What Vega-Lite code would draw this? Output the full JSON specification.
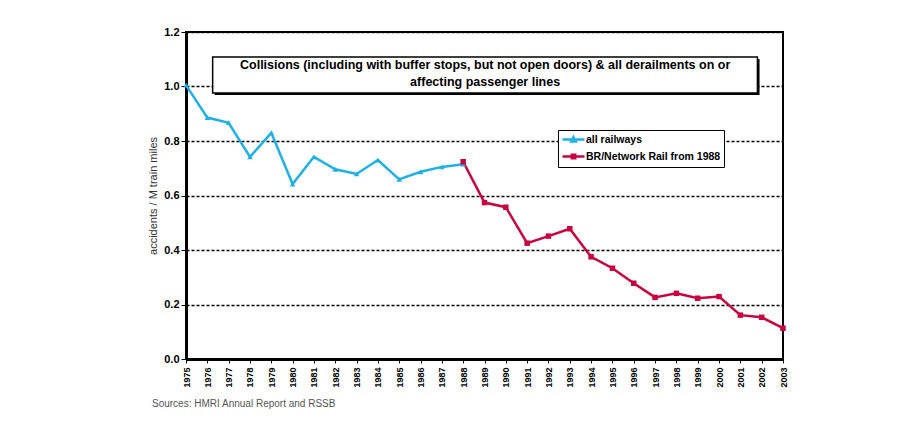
{
  "$schema": "https://vega.github.io/schema/vega-lite/v6.json",
  "width": 597,
  "height": 327,
  "autosize": {"type": "none"},
  "padding": {"left": 186, "top": 32, "right": 122, "bottom": 66},
  "background": "white",
  "config": {
    "font": "Liberation Sans",
    "view": {"stroke": "black", "strokeWidth": 2},
    "axis": {"domainColor": "black", "tickColor": "black", "labelColor": "black", "titleColor": "#333", "labelOverlap": false},
    "axisX": {"labelAngle": -90, "labelFontSize": 9, "labelFontWeight": "bold", "grid": false, "domainWidth": 3, "tickSize": 4, "tickWidth": 1, "labelPadding": 4, "labelFlush": false},
    "axisY": {"labelFontSize": 11, "labelFontWeight": "bold", "tickSize": 5, "tickWidth": 1, "titleFontSize": 11, "titleFontWeight": "normal", "titlePadding": 5, "grid": true, "gridColor": "black", "gridDash": [3, 2], "gridWidth": 1.5, "domainWidth": 3, "labelFlush": false}
  },
  "title": {
    "text": "Sources: HMRI Annual Report and RSSB",
    "orient": "bottom",
    "anchor": "start",
    "frame": "group",
    "dx": -34,
    "offset": 12,
    "fontSize": 10,
    "fontWeight": "normal",
    "color": "#555",
    "font": "Liberation Sans"
  },
  "datasets": {
    "rates": [
      {"year": 1975, "value": 1.005, "series": "all railways"},
      {"year": 1976, "value": 0.886, "series": "all railways"},
      {"year": 1977, "value": 0.867, "series": "all railways"},
      {"year": 1978, "value": 0.742, "series": "all railways"},
      {"year": 1979, "value": 0.830, "series": "all railways"},
      {"year": 1980, "value": 0.642, "series": "all railways"},
      {"year": 1981, "value": 0.742, "series": "all railways"},
      {"year": 1982, "value": 0.696, "series": "all railways"},
      {"year": 1983, "value": 0.679, "series": "all railways"},
      {"year": 1984, "value": 0.730, "series": "all railways"},
      {"year": 1985, "value": 0.659, "series": "all railways"},
      {"year": 1986, "value": 0.687, "series": "all railways"},
      {"year": 1987, "value": 0.705, "series": "all railways"},
      {"year": 1988, "value": 0.715, "series": "all railways"},
      {"year": 1988, "value": 0.724, "series": "BR/Network Rail from 1988"},
      {"year": 1989, "value": 0.574, "series": "BR/Network Rail from 1988"},
      {"year": 1990, "value": 0.557, "series": "BR/Network Rail from 1988"},
      {"year": 1991, "value": 0.425, "series": "BR/Network Rail from 1988"},
      {"year": 1992, "value": 0.451, "series": "BR/Network Rail from 1988"},
      {"year": 1993, "value": 0.478, "series": "BR/Network Rail from 1988"},
      {"year": 1994, "value": 0.375, "series": "BR/Network Rail from 1988"},
      {"year": 1995, "value": 0.333, "series": "BR/Network Rail from 1988"},
      {"year": 1996, "value": 0.278, "series": "BR/Network Rail from 1988"},
      {"year": 1997, "value": 0.226, "series": "BR/Network Rail from 1988"},
      {"year": 1998, "value": 0.241, "series": "BR/Network Rail from 1988"},
      {"year": 1999, "value": 0.223, "series": "BR/Network Rail from 1988"},
      {"year": 2000, "value": 0.229, "series": "BR/Network Rail from 1988"},
      {"year": 2001, "value": 0.161, "series": "BR/Network Rail from 1988"},
      {"year": 2002, "value": 0.153, "series": "BR/Network Rail from 1988"},
      {"year": 2003, "value": 0.113, "series": "BR/Network Rail from 1988"}
    ],
    "note": [{"line1": "Collisions (including with buffer stops, but not open doors) & all derailments on or", "line2": "affecting passenger lines"}]
  },
  "layer": [
    {
      "data": {"name": "rates"},
      "encoding": {
        "x": {
          "field": "year", "type": "quantitative",
          "scale": {"domain": [1975, 2003], "nice": false, "zero": false},
          "axis": {"values": [1975,1976,1977,1978,1979,1980,1981,1982,1983,1984,1985,1986,1987,1988,1989,1990,1991,1992,1993,1994,1995,1996,1997,1998,1999,2000,2001,2002,2003], "format": "d", "title": null}
        },
        "y": {
          "field": "value", "type": "quantitative",
          "scale": {"domain": [0, 1.2], "nice": false},
          "axis": {"values": [0, 0.2, 0.4, 0.6, 0.8, 1.0, 1.2], "format": ".1f", "title": "accidents / M train miles"}
        },
        "color": {
          "field": "series", "type": "nominal",
          "scale": {"domain": ["all railways", "BR/Network Rail from 1988"], "range": ["#1eb0e6", "#c8043e"]},
          "legend": {
            "title": null, "orient": "none", "legendX": 372, "legendY": 98,
            "strokeColor": "black", "fillColor": "white", "padding": 3,
            "labelFontSize": 10.5, "labelFontWeight": "bold", "labelColor": "black", "labelOffset": 6,
            "symbolSize": 100, "symbolOffset": 6, "symbolStrokeWidth": 2.5, "rowPadding": 2,
            "encode": {
              "symbols": {
                "update": {
                  "shape": {"signal": "datum.value === 'all railways' ? 'M-2.2,0H2.2M0,-0.45L0.45,0.4H-0.45Z' : 'M-2.2,0H2.2M-0.35,-0.35H0.35V0.35H-0.35Z'"},
                  "fill": {"signal": "datum.value === 'all railways' ? '#1eb0e6' : '#c8043e'"},
                  "stroke": {"signal": "datum.value === 'all railways' ? '#1eb0e6' : '#c8043e'"},
                  "opacity": {"value": 1}
                }
              }
            }
          }
        }
      },
      "layer": [
        {"mark": {"type": "line", "strokeWidth": 2.5}, "encoding": {}},
        {
          "transform": [{"filter": "datum.series === 'all railways'"}],
          "mark": {"type": "point", "filled": true, "opacity": 1, "size": 30, "shape": "triangle-up"}
        },
        {
          "transform": [{"filter": "datum.series !== 'all railways'"}],
          "mark": {"type": "point", "filled": true, "opacity": 1, "size": 30, "shape": "square"}
        }
      ]
    },
    {
      "data": {"name": "note"},
      "mark": {"type": "rect", "fill": "black"},
      "encoding": {
        "x": {"datum": 1976.35, "type": "quantitative", "axis": {"values": [1975,1976,1977,1978,1979,1980,1981,1982,1983,1984,1985,1986,1987,1988,1989,1990,1991,1992,1993,1994,1995,1996,1997,1998,1999,2000,2001,2002,2003], "format": "d", "title": null}},
        "x2": {"datum": 2001.9},
        "y": {"datum": 0.969, "type": "quantitative", "axis": {"values": [0, 0.2, 0.4, 0.6, 0.8, 1.0, 1.2], "format": ".1f", "title": "accidents / M train miles"}},
        "y2": {"datum": 1.101}
      }
    },
    {
      "data": {"name": "note"},
      "mark": {"type": "rect", "fill": "white", "stroke": "black", "strokeWidth": 1.5},
      "encoding": {
        "x": {"datum": 1976.25, "type": "quantitative", "axis": {"values": [1975,1976,1977,1978,1979,1980,1981,1982,1983,1984,1985,1986,1987,1988,1989,1990,1991,1992,1993,1994,1995,1996,1997,1998,1999,2000,2001,2002,2003], "format": "d", "title": null}},
        "x2": {"datum": 2001.8},
        "y": {"datum": 0.976, "type": "quantitative", "axis": {"values": [0, 0.2, 0.4, 0.6, 0.8, 1.0, 1.2], "format": ".1f", "title": "accidents / M train miles"}},
        "y2": {"datum": 1.108}
      }
    },
    {
      "data": {"name": "note"},
      "mark": {"type": "text", "fontSize": 12.5, "fontWeight": "bold", "fill": "black", "align": "center", "baseline": "middle"},
      "encoding": {
        "x": {"datum": 1989.03, "type": "quantitative", "axis": {"values": [1975,1976,1977,1978,1979,1980,1981,1982,1983,1984,1985,1986,1987,1988,1989,1990,1991,1992,1993,1994,1995,1996,1997,1998,1999,2000,2001,2002,2003], "format": "d", "title": null}},
        "y": {"datum": 1.080, "type": "quantitative", "axis": {"values": [0, 0.2, 0.4, 0.6, 0.8, 1.0, 1.2], "format": ".1f", "title": "accidents / M train miles"}},
        "text": {"field": "line1"}
      }
    },
    {
      "data": {"name": "note"},
      "mark": {"type": "text", "fontSize": 12.5, "fontWeight": "bold", "fill": "black", "align": "center", "baseline": "middle"},
      "encoding": {
        "x": {"datum": 1989.03, "type": "quantitative", "axis": {"values": [1975,1976,1977,1978,1979,1980,1981,1982,1983,1984,1985,1986,1987,1988,1989,1990,1991,1992,1993,1994,1995,1996,1997,1998,1999,2000,2001,2002,2003], "format": "d", "title": null}},
        "y": {"datum": 1.017, "type": "quantitative", "axis": {"values": [0, 0.2, 0.4, 0.6, 0.8, 1.0, 1.2], "format": ".1f", "title": "accidents / M train miles"}},
        "text": {"field": "line2"}
      }
    }
  ]
}
